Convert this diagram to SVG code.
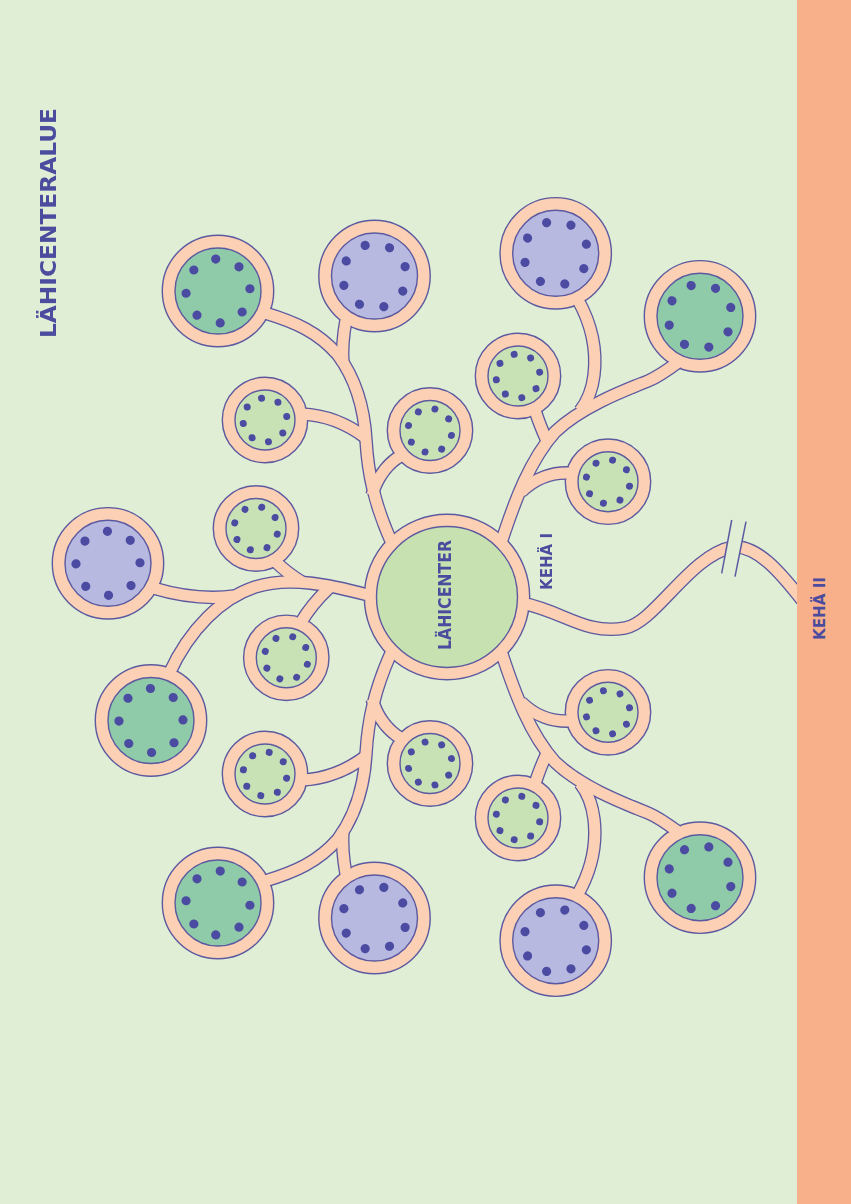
<svg xmlns="http://www.w3.org/2000/svg" width="851" height="1204" viewBox="0 0 851 1204">
<style>
.bg{fill:#e1eed6}
.strip{fill:#f8b08a}
.ring{fill:#fbd0b4;stroke:#5b5aa0;stroke-width:1.4}
.in-s{fill:#c9e2b5;stroke:#5b5aa0;stroke-width:1.4}
.in-t{fill:#8fcaa9;stroke:#5b5aa0;stroke-width:1.4}
.in-l{fill:#b8b9e1;stroke:#5b5aa0;stroke-width:1.4}
.in-c{fill:#c8e1b1;stroke:#5b5aa0;stroke-width:1.4}
.dot{fill:#4c4ba2}
.lbl{font-family:"DejaVu Sans","Liberation Sans",Arial,sans-serif;font-weight:bold;fill:#4b4c9e;text-anchor:middle}
.rd{fill:none}
.edge{stroke:#5b5aa0;stroke-width:13.6}
.fillr{stroke:#fbd0b4;stroke-width:11}
.brk{stroke:#5b5aa0;stroke-width:1.5;fill:none}
</style>
<defs>
<g id="dl" class="dot">
<circle cx="32" cy="0" r="4.6"/><circle cx="22.63" cy="22.63" r="4.6"/><circle cx="0" cy="32" r="4.6"/><circle cx="-22.63" cy="22.63" r="4.6"/>
<circle cx="-32" cy="0" r="4.6"/><circle cx="-22.63" cy="-22.63" r="4.6"/><circle cx="0" cy="-32" r="4.6"/><circle cx="22.63" cy="-22.63" r="4.6"/>
</g>
<g id="ds" class="dot">
<circle cx="22" cy="0" r="3.5"/><circle cx="15.56" cy="15.56" r="3.5"/><circle cx="0" cy="22" r="3.5"/><circle cx="-15.56" cy="15.56" r="3.5"/>
<circle cx="-22" cy="0" r="3.5"/><circle cx="-15.56" cy="-15.56" r="3.5"/><circle cx="0" cy="-22" r="3.5"/><circle cx="15.56" cy="-15.56" r="3.5"/>
</g>
<clipPath id="gap"><path clip-rule="evenodd" d="M0 0H851V1204H0Z M731.7 515 L746.8 517 L735 581 L720.7 578Z"/></clipPath>
<g id="roads" class="rd">
<path d="M391 541 C375 505 368 475 366 440 C364 405 355 378 338 355 C318 332 295 322 265 313"/>
<path d="M346 320 C343 336 342 350 343 364"/>
<path d="M302 414 C325 415 345 422 366 438"/>
<path d="M402 455 C388 463 378 475 372 495"/>
<path d="M391 653 C375 689 368 719 366 754 C364 789 355 816 338 839 C318 862 295 872 265 881"/>
<path d="M346 874 C343 858 342 844 343 830"/>
<path d="M302 780 C325 779 345 772 366 756"/>
<path d="M402 739 C388 731 378 719 372 699"/>
<path d="M368 595 C330 585 290 576 255 587 C222 598 190 628 169 674"/>
<path d="M153 588 C180 596 205 600 234 596"/>
<path d="M276 562 C284 570 292 576 302 582"/>
<path d="M300 624 C308 610 316 600 330 587"/>
<path d="M501 543 C515 500 530 460 555 432 C580 408 620 392 648 381 C660 376 669 369 681 360"/>
<path d="M578 300 C592 325 597 350 594 375 C592 392 587 402 580 411"/>
<path d="M535 410 C538 420 542 430 547 441"/>
<path d="M570 473 C553 472 535 478 521 492"/>
<path d="M501 651 C515 694 530 734 555 762 C580 786 620 802 648 813 C660 818 669 825 681 834"/>
<path d="M578 894 C592 869 597 844 594 819 C592 802 587 792 580 783"/>
<path d="M535 784 C538 774 542 764 547 753"/>
<path d="M570 721 C553 722 535 716 521 702"/>
<path clip-path="url(#gap)" d="M522 603 C565 612 585 635 625 628 C655 623 690 555 733 547 C757 545 780 572 802 600"/>
</g>
<mask id="nm" maskUnits="userSpaceOnUse" x="0" y="0" width="851" height="1204">
<rect width="851" height="1204" fill="#fff"/>
<g fill="#000">
<circle cx="447" cy="597" r="82"/>
<circle cx="218" cy="291" r="55"/><circle cx="374.5" cy="276" r="55"/><circle cx="265" cy="420" r="42"/><circle cx="430" cy="430.5" r="42"/>
<circle cx="218" cy="903" r="55"/><circle cx="374.5" cy="918" r="55"/><circle cx="265" cy="774" r="42"/><circle cx="430" cy="763.5" r="42"/>
<circle cx="108" cy="563.3" r="55"/><circle cx="151" cy="720.5" r="55"/><circle cx="256" cy="528.5" r="42"/><circle cx="286.3" cy="657.8" r="42"/>
<circle cx="555.7" cy="253.3" r="55"/><circle cx="700" cy="316.3" r="55"/><circle cx="518" cy="376" r="42"/><circle cx="608" cy="481.7" r="42"/>
<circle cx="555.7" cy="940.7" r="55"/><circle cx="700" cy="877.7" r="55"/><circle cx="518" cy="818" r="42"/><circle cx="608" cy="712.3" r="42"/>
</g>
</mask>
</defs>
<rect class="bg" width="851" height="1204"/>

<g id="center" transform="translate(447,597)"><circle class="ring" r="82.7"/><circle class="in-c" r="70.5"/></g>

<g id="n-lt-teal" transform="translate(218,291)"><circle class="ring" r="55.7"/><circle class="in-t" r="43"/><use href="#dl" transform="rotate(-4)"/></g>
<g id="n-lt-lav" transform="translate(374.5,276)"><circle class="ring" r="55.7"/><circle class="in-l" r="43"/><use href="#dl" transform="rotate(-17)"/></g>
<g id="n-lt-s1" transform="translate(265,420)"><circle class="ring" r="42.7"/><circle class="in-s" r="30"/><use href="#ds" transform="rotate(-9)"/></g>
<g id="n-lt-s2" transform="translate(430,430.5)"><circle class="ring" r="42.7"/><circle class="in-s" r="30"/><use href="#ds" transform="rotate(13)"/></g>

<g id="n-lb-teal" transform="translate(218,903)"><circle class="ring" r="55.7"/><circle class="in-t" r="43"/><use href="#dl" transform="rotate(4)"/></g>
<g id="n-lb-lav" transform="translate(374.5,918)"><circle class="ring" r="55.7"/><circle class="in-l" r="43"/><use href="#dl" transform="rotate(17)"/></g>
<g id="n-lb-s1" transform="translate(265,774)"><circle class="ring" r="42.7"/><circle class="in-s" r="30"/><use href="#ds" transform="rotate(11)"/></g>
<g id="n-lb-s2" transform="translate(430,763.5)"><circle class="ring" r="42.7"/><circle class="in-s" r="30"/><use href="#ds" transform="rotate(-13)"/></g>

<g id="n-lm-lav" transform="translate(108,563.3)"><circle class="ring" r="55.7"/><circle class="in-l" r="43"/><use href="#dl" transform="rotate(-1)"/></g>
<g id="n-lm-teal" transform="translate(151,720.5)"><circle class="ring" r="55.7"/><circle class="in-t" r="43"/><use href="#dl" transform="rotate(-1)"/></g>
<g id="n-lm-s1" transform="translate(256,528.5)"><circle class="ring" r="42.7"/><circle class="in-s" r="30"/><use href="#ds" transform="rotate(15)"/></g>
<g id="n-lm-s2" transform="translate(286.3,657.8)"><circle class="ring" r="42.7"/><circle class="in-s" r="30"/><use href="#ds" transform="rotate(17)"/></g>

<g id="n-rt-lav" transform="translate(555.7,253.3)"><circle class="ring" r="55.7"/><circle class="in-l" r="43"/><use href="#dl" transform="rotate(-16.5)"/></g>
<g id="n-rt-teal" transform="translate(700,316.3)"><circle class="ring" r="55.7"/><circle class="in-t" r="43"/><use href="#dl" transform="rotate(-16)"/></g>
<g id="n-rt-s1" transform="translate(518,376)"><circle class="ring" r="42.7"/><circle class="in-s" r="30"/><use href="#ds" transform="rotate(-10)"/></g>
<g id="n-rt-s2" transform="translate(608,481.7)"><circle class="ring" r="42.7"/><circle class="in-s" r="30"/><use href="#ds" transform="rotate(12)"/></g>

<g id="n-rb-lav" transform="translate(555.7,940.7)"><circle class="ring" r="55.7"/><circle class="in-l" r="43"/><use href="#dl" transform="rotate(16.5)"/></g>
<g id="n-rb-teal" transform="translate(700,877.7)"><circle class="ring" r="55.7"/><circle class="in-t" r="43"/><use href="#dl" transform="rotate(16)"/></g>
<g id="n-rb-s1" transform="translate(518,818)"><circle class="ring" r="42.7"/><circle class="in-s" r="30"/><use href="#ds" transform="rotate(10)"/></g>
<g id="n-rb-s2" transform="translate(608,712.3)"><circle class="ring" r="42.7"/><circle class="in-s" r="30"/><use href="#ds" transform="rotate(-12)"/></g>

<g id="connectors">
<g mask="url(#nm)"><use href="#roads" class="edge"/></g>
<use href="#roads" class="fillr"/>
<line class="brk" x1="731.7" y1="520" x2="721.7" y2="573.3"/>
<line class="brk" x1="746" y1="521.7" x2="735" y2="576.7"/>
</g>

<rect class="strip" x="797" y="0" width="54" height="1204"/>

<text class="lbl" font-size="21" textLength="230" lengthAdjust="spacingAndGlyphs" transform="translate(56,223) rotate(-90)">LÄHICENTERALUE</text>
<text class="lbl" font-size="17.5" textLength="110" lengthAdjust="spacingAndGlyphs" transform="translate(450.5,595) rotate(-90)">LÄHICENTER</text>
<text class="lbl" font-size="16.5" textLength="57" lengthAdjust="spacingAndGlyphs" transform="translate(551.5,561.5) rotate(-90)">KEHÄ I</text>
<text class="lbl" font-size="16.5" textLength="63" lengthAdjust="spacingAndGlyphs" transform="translate(824.5,608.5) rotate(-90)">KEHÄ II</text>
</svg>
